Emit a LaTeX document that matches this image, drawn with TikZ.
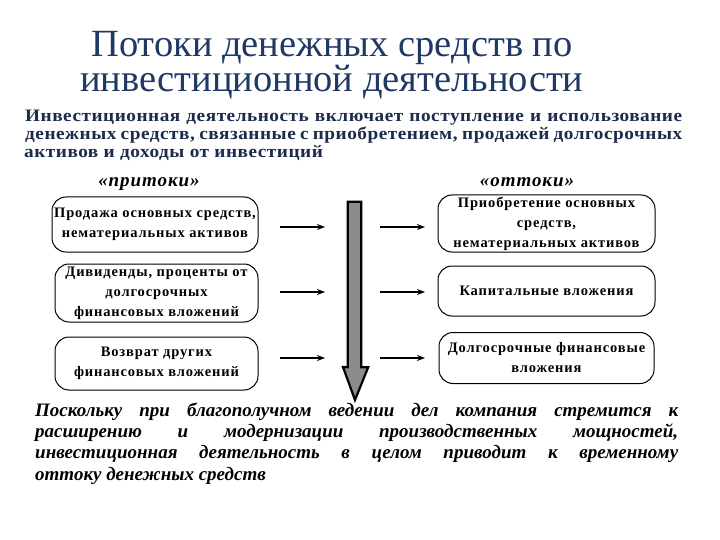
\documentclass[tikz,border=0pt]{standalone}
\usepackage{fontspec}
\setmainfont{Liberation Serif}
\newfontfamily\boxfont[LetterSpace=6]{Liberation Serif}
\newfontfamily\subfont[FakeStretch=1.1,LetterSpace=3]{Liberation Serif}
\newfontfamily\lblfont[LetterSpace=5]{Liberation Serif}
\usetikzlibrary{arrows.meta}
\definecolor{titleblue}{HTML}{1F3864}
\definecolor{subnavy}{HTML}{1B2B4B}
\definecolor{bigarrow}{HTML}{8C8C8C}
\begin{document}
\begin{tikzpicture}[x=1pt,y=-1pt,
  box/.style={draw, rounded corners=14pt, line width=1pt, align=center,
    font=\boxfont\fontsize{14.5}{20}\selectfont\bfseries, inner sep=0pt},
  flow/.style={line width=2.6pt, -{Stealth[length=8pt,width=6pt]}},
  titletext/.style={anchor=north, inner sep=0pt, text=titleblue, align=center, font=\fontsize{38.5}{32}\selectfont},
  subtext/.style={anchor=base west, inner sep=0pt, text=subnavy, font=\subfont\fontsize{17.5}{18}\selectfont\bfseries},
  endtext/.style={anchor=base west, inner sep=0pt, font=\fontsize{19}{21}\selectfont\bfseries\itshape},
  lbl/.style={anchor=base, inner sep=0pt, font=\lblfont\fontsize{19}{20}\selectfont\bfseries\itshape}
]
\useasboundingbox (0,0) rectangle (720,540);
\fill[white] (0,0) rectangle (720,540);

\node[titletext] (title) at (332,31) {Потоки денежных средств по\\инвестиционной деятельности};

\node[subtext] (s1) at (25,122) {\makebox[657pt][s]{Инвестиционная деятельность включает поступление и использование}};
\node[subtext] (s2) at (25,140) {\makebox[657pt][s]{денежных средств, связанные с приобретением, продажей долгосрочных}};
\node[subtext] (s3) at (24,158) {активов и доходы от инвестиций};

\node[lbl] (inl) at (149,187) {«притоки»};
\node[lbl] (outl) at (527,187) {«оттоки»};

\node[box, minimum width=206, minimum height=55] (L1) at (155,224.5) {Продажа основных средств,\\нематериальных активов};
\node[box, minimum width=203, minimum height=58] (L2) at (156.5,293) {Дивиденды, проценты от\\долгосрочных\\финансовых вложений};
\node[box, minimum width=203, minimum height=53] (L3) at (156.5,363.5) {Возврат других\\финансовых вложений};

\node[box, minimum width=217, minimum height=57] (R1) at (546.5,223.5) {Приобретение основных\\средств,\\нематериальных активов};
\node[box, minimum width=217, minimum height=50] (R2) at (546.5,291) {Капитальные вложения};
\node[box, minimum width=215, minimum height=51] (R3) at (546.5,358) {Долгосрочные финансовые\\вложения};

% big downward arrow
\node[minimum width=13, minimum height=165, inner sep=0pt] (shaft) at (354.5,284.5) {};
\draw[line width=2.2pt, fill=bigarrow, line join=miter]
  (shaft.north west) -- (shaft.north east) -- (shaft.south east) -- ++(7,0)
  -- (355,400) -- (343,367) -- (shaft.south west) -- cycle;

% small arrows
\coordinate (a1) at (0,227);
\coordinate (a2) at (0,292);
\coordinate (a3) at (0,358);
\foreach \i in {1,2,3}{
  \draw[flow] (280,0 |- a\i) -- (325,0 |- a\i);
  \draw[flow] (380,0 |- a\i) -- (425,0 |- a\i);
}

\node[endtext] (p1) at (35,416) {\makebox[643pt][s]{Поскольку при благополучном ведении дел компания стремится к}};
\node[endtext] (p2) at (35,437) {\makebox[643pt][s]{расширению и модернизации производственных мощностей,}};
\node[endtext] (p3) at (35,458) {\makebox[643pt][s]{инвестиционная деятельность в целом приводит к временному}};
\node[endtext] (p4) at (35,480) {оттоку денежных средств};
\end{tikzpicture}
\end{document}
